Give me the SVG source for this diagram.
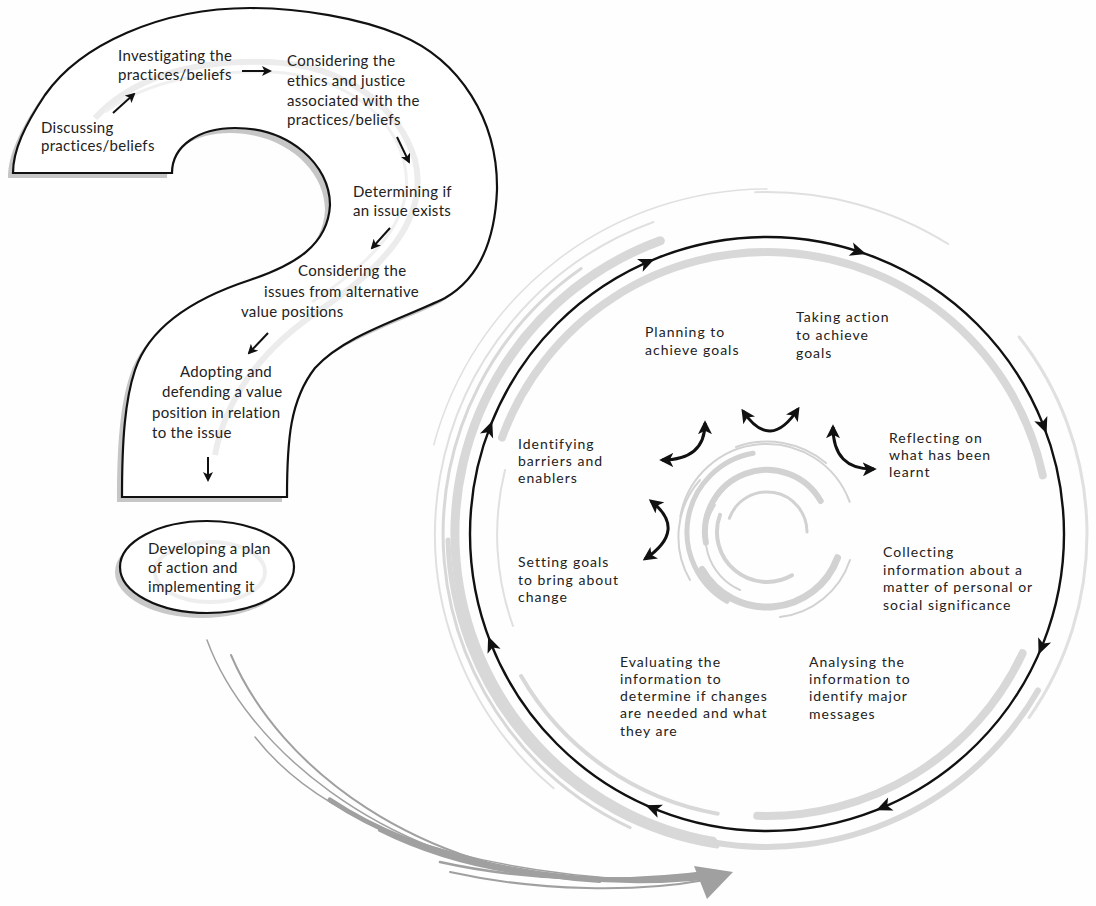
<svg xmlns="http://www.w3.org/2000/svg" xmlns:xlink="http://www.w3.org/1999/xlink" width="1096" height="906" viewBox="0 0 1096 906">
<style>
.qt{font-family:Lato,"Open Sans","Liberation Sans",sans-serif;font-size:15px;fill:#222;letter-spacing:0.3px}
.ct{font-family:Lato,"Open Sans","Liberation Sans",sans-serif;font-size:14px;fill:#222;letter-spacing:1px}
.outline{fill:#fff;stroke:#111;stroke-width:2.2}
.shadow{fill:#c6c6c6;stroke:none}
.band{fill:none;stroke:#d8d8d8;stroke-linecap:round}
.thin{fill:none;stroke:#e0e0e0;stroke-linecap:round}
.swirl{fill:none;stroke:#d2d2d2;stroke-linecap:round}
.sw{fill:none;stroke:#a0a0a0;stroke-linecap:round}
.arr{fill:none;stroke:#111;stroke-width:2}
.carr{fill:none;stroke:#111;stroke-width:3}
</style>
<defs>
<marker id="ah" viewBox="0 0 10 10" refX="8" refY="5" markerWidth="10" markerHeight="10" markerUnits="userSpaceOnUse" orient="auto-start-reverse"><path d="M0,0 L10,5 L0,10 L2.5,5 Z" fill="#111"/></marker>
<marker id="ah2" viewBox="0 0 10 10" refX="8" refY="5" markerWidth="14" markerHeight="14" markerUnits="userSpaceOnUse" orient="auto-start-reverse"><path d="M0,0 L10,5 L0,10 L2.5,5 Z" fill="#111"/></marker>
<path id="tri" d="M8,0 L-8,-7 L-4,0 L-8,7 Z" fill="#111"/>
<path id="qpath" d="M13,173 L172,173 C172,145 200,128 235,128 C290,128 330,165 330,205 C328,245 295,265 250,280 C195,298 150,325 135,370 C125,400 122,440 122,497 L287,497 C287,440 290,400 315,368 C345,335 400,320 445,298 C480,278 495,240 497,190 C498,120 460,60 400,35 C360,18 300,8 250,8 C160,8 80,45 45,95 C25,125 13,150 13,173 Z"/>
</defs>
<rect width="1096" height="906" fill="#fefefe"/>

<g id="circle-bands">
<path class="band" d="M712.8,841.3 A312,312 0 0 1 660.3,240.8" stroke-width="9"/>
<path class="band" d="M717,846 A318,318 0 0 1 448,540" stroke-width="5" stroke="#cfcfcf"/>
<path class="band" d="M630.1,827.6 A324,324 0 0 1 581.2,268.6" stroke-width="3" stroke="#dcdcdc"/>
<path class="thin" d="M553.6,788.3 A332,332 0 0 1 653.5,222" stroke-width="2"/>
<path class="thin" d="M433.8,444.7 A345,345 0 0 1 767,189" stroke-width="1.5" stroke="#e4e4e4"/>
<path class="thin" d="M755.1,192.2 A342,342 0 0 1 948.2,244" stroke-width="2"/>
<path class="thin" d="M1019.2,337 A320,320 0 0 1 1029.1,717.5" stroke-width="3" stroke="#e4e4e4"/>
<path class="band" d="M1038,690.5 A313,313 0 0 1 712.6,842.2" stroke-width="6"/>
<path class="band" d="M502,437.6 A282,282 0 0 1 1042.8,475.4" stroke-width="8" stroke="#dadada"/>
<path class="band" d="M1022.6,653.2 A282,282 0 0 1 757.2,815.8" stroke-width="8" stroke="#dadada"/>
<path class="band" d="M717.7,813.7 A284,284 0 0 1 521.1,676" stroke-width="4" stroke="#dedede"/>
<path class="thin" d="M513,626 A270,270 0 0 1 505,470" stroke-width="2"/>
</g>

<g id="swirl">
<path class="swirl" d="M680.3,516.7 A88,88 0 0 1 849.7,501.9" stroke-width="2"/>
<path class="swirl" d="M727,601.3 A80,80 0 0 1 753.1,453.2" stroke-width="5"/>
<path class="swirl" d="M837.5,557.7 A75,75 0 0 1 702,569.5" stroke-width="7"/>
<path class="swirl" d="M705.9,542.8 A62,62 0 0 1 820.7,501" stroke-width="6"/>
<path class="swirl" d="M792,575.3 A50,50 0 0 1 720,514.9" stroke-width="4"/>
<path class="swirl" d="M729.4,518.3 A40,40 0 0 1 807,532" stroke-width="3"/>
<path class="swirl" d="M736,447 A92,92 0 0 1 826,463" stroke-width="2" stroke="#e2e2e2"/>
<path class="swirl" d="M690,580 A86,86 0 0 1 700,480" stroke-width="2" stroke="#dddddd"/>
<path class="swirl" d="M850,560 A84,84 0 0 1 780,617" stroke-width="2" stroke="#dddddd"/>
<path class="swirl" d="M740,590 A58,58 0 0 1 715,505" stroke-width="2" stroke="#dddddd"/>
</g>

<g id="swoosh">
<path class="sw" d="M207,640 C245,745 380,860 560,878" stroke-width="1.5" stroke="#a8a8a8"/>
<path class="sw" d="M231,655 C280,770 420,872 600,882" stroke-width="2"/>
<path class="sw" d="M255,737 C320,820 450,870 640,880" stroke-width="1.5" stroke="#acacac"/>
<path class="sw" d="M330,800 C420,860 560,890 700,878" stroke-width="5" stroke="#b8b8b8"/>
<path class="sw" d="M380,830 C470,875 580,888 712,874" stroke-width="4" stroke="#aaaaaa"/>
<path class="sw" d="M440,862 C520,880 620,884 715,871" stroke-width="2.5"/>
<path class="sw" d="M450,872 C540,892 640,892 705,880" stroke-width="2" stroke="#bcbcbc"/>
<polygon points="694,866 733,872 707,899" fill="#a0a0a0"/>
</g>

<g id="question-mark">
<use xlink:href="#qpath" class="shadow" transform="translate(-5,5)"/>
<use xlink:href="#qpath" class="outline"/>
<path d="M95,118 C140,70 210,60 270,62 C350,66 400,110 415,160 C430,220 380,270 320,310 C260,350 225,400 215,455" fill="none" stroke="#ececec" stroke-width="6"/>
<path d="M105,112 C150,78 215,70 272,72 C345,76 392,115 404,162 C418,218 372,262 312,302" fill="none" stroke="#f0f0f0" stroke-width="3"/>
</g>

<g id="qm-steps">
<g id="step-discussing"><text class="qt" x="41" y="133">Discussing</text><text class="qt" x="41" y="151">practices/beliefs</text></g>
<g id="step-investigating"><text class="qt" x="118" y="61">Investigating the</text><text class="qt" x="118" y="80">practices/beliefs</text></g>
<g id="step-ethics"><text class="qt" x="287" y="66">Considering the</text><text class="qt" x="287" y="86">ethics and justice</text><text class="qt" x="287" y="106">associated with the</text><text class="qt" x="287" y="125">practices/beliefs</text></g>
<g id="step-determining"><text class="qt" x="353" y="197">Determining if</text><text class="qt" x="353" y="216">an issue exists</text></g>
<g id="step-alternative"><text class="qt" x="298" y="276">Considering the</text><text class="qt" x="264" y="297">issues from alternative</text><text class="qt" x="241" y="317">value positions</text></g>
<g id="step-adopting"><text class="qt" x="180" y="377">Adopting and</text><text class="qt" x="162" y="397">defending a value</text><text class="qt" x="152" y="418">position in relation</text><text class="qt" x="152" y="438">to the issue</text></g>
</g>

<g id="plan-node">
<ellipse cx="202" cy="572" rx="87" ry="46" fill="#c8c8c8"/>
<ellipse cx="207" cy="567" rx="87" ry="46" fill="#fff" stroke="#111" stroke-width="2.2"/>
<ellipse cx="210" cy="572" rx="55" ry="30" fill="none" stroke="#eeeeee" stroke-width="4"/>
<text class="qt" x="148" y="554">Developing a plan</text>
<text class="qt" x="148" y="573">of action and</text>
<text class="qt" x="148" y="592">implementing it</text>
</g>

<g id="cycle">
<circle cx="767" cy="534" r="297" fill="none" stroke="#111" stroke-width="2.4"/>
<use xlink:href="#tri" transform="translate(647.2,262.2) rotate(-23.8)"/>
<use xlink:href="#tri" transform="translate(858.5,251.5) rotate(17.95)"/>
<use xlink:href="#tri" transform="translate(1043.7,426.1) rotate(68.7)"/>
<use xlink:href="#tri" transform="translate(1041.6,647.2) rotate(112.4)"/>
<use xlink:href="#tri" transform="translate(883.5,807.2) rotate(156.9)"/>
<use xlink:href="#tri" transform="translate(652.9,808.2) rotate(202.6)"/>
<use xlink:href="#tri" transform="translate(491.1,643.8) rotate(248.3)"/>
<use xlink:href="#tri" transform="translate(489.4,428.5) rotate(290.8)"/>
</g>

<g id="cycle-steps">
<g id="c-planning"><text class="ct" x="645" y="337">Planning to</text><text class="ct" x="645" y="355">achieve goals</text></g>
<g id="c-taking"><text class="ct" x="796" y="322">Taking action</text><text class="ct" x="796" y="340">to achieve</text><text class="ct" x="796" y="358">goals</text></g>
<g id="c-reflecting"><text class="ct" x="889" y="443">Reflecting on</text><text class="ct" x="889" y="460">what has been</text><text class="ct" x="889" y="477">learnt</text></g>
<g id="c-identifying"><text class="ct" x="518" y="449">Identifying</text><text class="ct" x="518" y="466">barriers and</text><text class="ct" x="518" y="483">enablers</text></g>
<g id="c-setting"><text class="ct" x="518" y="567">Setting goals</text><text class="ct" x="518" y="585">to bring about</text><text class="ct" x="518" y="602">change</text></g>
<g id="c-evaluating"><text class="ct" x="620" y="667">Evaluating the</text><text class="ct" x="620" y="684">information to</text><text class="ct" x="620" y="701">determine if changes</text><text class="ct" x="620" y="718">are needed and what</text><text class="ct" x="620" y="736">they are</text></g>
<g id="c-analysing"><text class="ct" x="809" y="667">Analysing the</text><text class="ct" x="809" y="684">information to</text><text class="ct" x="809" y="701">identify major</text><text class="ct" x="809" y="719">messages</text></g>
<g id="c-collecting"><text class="ct" x="883" y="557">Collecting</text><text class="ct" x="883" y="575">information about a</text><text class="ct" x="883" y="592">matter of personal or</text><text class="ct" x="883" y="610">social significance</text></g>
</g>

<g id="connectors">
<line class="arr" x1="113" y1="113" x2="134" y2="94" marker-end="url(#ah)"/>
<line class="arr" x1="242" y1="71" x2="270" y2="71" marker-end="url(#ah)"/>
<line class="arr" x1="397" y1="137" x2="409" y2="162" marker-end="url(#ah)"/>
<line class="arr" x1="390" y1="228" x2="372" y2="248" marker-end="url(#ah)"/>
<line class="arr" x1="268" y1="333" x2="249" y2="353" marker-end="url(#ah)"/>
<line class="arr" x1="208" y1="457" x2="208" y2="480" marker-end="url(#ah)"/>
<path class="carr" d="M662,460 Q705,460 705,423" marker-start="url(#ah2)" marker-end="url(#ah2)"/>
<path class="carr" d="M743,411 Q770,452 798,409" marker-start="url(#ah2)" marker-end="url(#ah2)"/>
<path class="carr" d="M833,427 Q833,470 874,469" marker-start="url(#ah2)" marker-end="url(#ah2)"/>
<path class="carr" d="M651,501 Q688,530 645,559" marker-start="url(#ah2)" marker-end="url(#ah2)"/>
</g>
</svg>
